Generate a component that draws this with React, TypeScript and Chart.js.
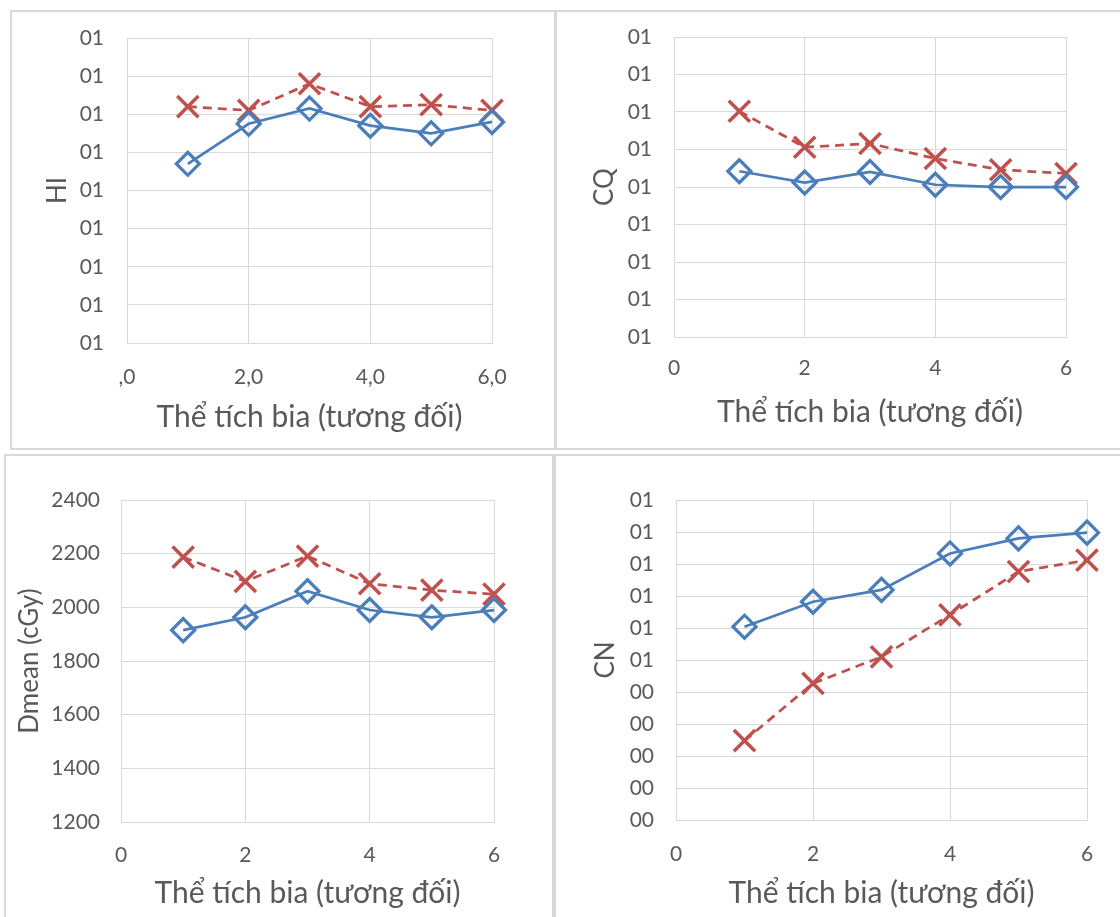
import React, { useEffect, useRef } from "react";
import { Chart, registerables } from "chart.js";

Chart.register(...registerables);

// ---------- data ----------
const xValues = [1, 2, 3, 4, 5, 6];

const hiBlue = [1.094, 1.115, 1.123, 1.114, 1.110, 1.116];
const hiRed = [1.124, 1.122, 1.136, 1.124, 1.125, 1.122];

const cqBlue = [1.021, 1.006, 1.020, 1.003, 1.000, 1.000];
const cqRed = [1.101, 1.053, 1.058, 1.038, 1.023, 1.018];

const dmeanBlue = [1915, 1963, 2060, 1990, 1963, 1990];
const dmeanRed = [2187, 2097, 2191, 2088, 2064, 2049];

const cnBlue = [0.604, 0.682, 0.719, 0.833, 0.880, 0.898];
const cnRed = [0.248, 0.427, 0.510, 0.641, 0.776, 0.812];

const xTickLabelsHI = [",0", "2,0", "4,0", "6,0"];
const xTickLabels = ["0", "2", "4", "6"];

const hiYLabels = ["01", "01", "01", "01", "01", "01", "01", "01", "01"];
const cqYLabels = ["01", "01", "01", "01", "01", "01", "01", "01", "01"];
const dmeanYLabels = ["1200", "1400", "1600", "1800", "2000", "2200", "2400"];
const cnYLabels = ["00", "00", "00", "00", "00", "01", "01", "01", "01", "01", "01"];

const hiRange = [1.0, 1.16, 0.02];
const cqRange = [0.8, 1.2, 0.05];
const dmeanRange = [1200, 2400, 200];
const cnRange = [0, 1, 0.1];

const xTitle = "Thể tích bia (tương đối)";

// ---------- styles / layout ----------
const PAGE_W = 1120;
const PAGE_H = 917;
const BLUE = "#4A7EBB";
const RED = "#C0504D";
const GRID = "#d9d9d9";
const TEXT = "#595959";
const FAMILY = "Lato, 'Open Sans', sans-serif";
const TICK_SIZE = 21;
const TITLE_SIZE = 30;
const YTITLE_SIZE = 26;

type PanelCfg = {
  plot: { l: number; t: number; r: number; b: number };
  yTitleX: number;
  xTitleY: number;
  yTickPad: number;
  xTickPad: number;
  yTitle: string;
  range: number[];
  yLabels: string[];
  xLabels: string[];
  blue: number[];
  red: number[];
};

const panels: PanelCfg[] = [
  {
    plot: { l: 127, t: 38, r: 492, b: 343 },
    yTitleX: 58, xTitleY: 417, yTickPad: 23, xTickPad: 22,
    yTitle: "HI", range: hiRange, yLabels: hiYLabels, xLabels: xTickLabelsHI,
    blue: hiBlue, red: hiRed,
  },
  {
    plot: { l: 674, t: 37, r: 1066, b: 337 },
    yTitleX: 605, xTitleY: 412, yTickPad: 22, xTickPad: 19,
    yTitle: "CQ", range: cqRange, yLabels: cqYLabels, xLabels: xTickLabels,
    blue: cqBlue, red: cqRed,
  },
  {
    plot: { l: 121, t: 500, r: 494, b: 822 },
    yTitleX: 30, xTitleY: 893, yTickPad: 21, xTickPad: 21,
    yTitle: "Dmean (cGy)", range: dmeanRange, yLabels: dmeanYLabels, xLabels: xTickLabels,
    blue: dmeanBlue, red: dmeanRed,
  },
  {
    plot: { l: 676, t: 500, r: 1087, b: 820 },
    yTitleX: 606, xTitleY: 893, yTickPad: 22, xTickPad: 22,
    yTitle: "CN", range: cnRange, yLabels: cnYLabels, xLabels: xTickLabels,
    blue: cnBlue, red: cnRed,
  },
];

const frames = [
  { left: 10, top: 10, width: 547, height: 440 },
  { left: 554, top: 10, width: 620, height: 440 },
  { left: 4, top: 454, width: 550, height: 520 },
  { left: 554, top: 454, width: 620, height: 520 },
];

function PanelChart({ cfg }: { cfg: PanelCfg }) {
  const ref = useRef<HTMLCanvasElement>(null);
  useEffect(() => {
    const canvas = ref.current!;
    const lhX = TITLE_SIZE * 1.2;
    const lhY = YTITLE_SIZE * 1.2;
    const pl = cfg.yTitleX - lhY / 2;
    const yw = cfg.plot.l - pl;
    const pt = cfg.plot.t;
    const pr = PAGE_W - cfg.plot.r;
    const pb = PAGE_H - cfg.xTitleY - lhX / 2;
    const xh = PAGE_H - pb - cfg.plot.b;
    const tickFont = { family: FAMILY, size: TICK_SIZE };
    const chart = new Chart(canvas, {
      type: "line",
      data: {
        datasets: [
          {
            data: xValues.map((x, i) => ({ x, y: cfg.blue[i] })),
            borderColor: BLUE,
            borderWidth: 2.75,
            pointStyle: "rectRot",
            pointRadius: 11.5,
            pointBorderWidth: 3.25,
            pointBorderColor: BLUE,
            pointBackgroundColor: "rgba(0,0,0,0)",
            tension: 0,
            clip: false,
          },
          {
            data: xValues.map((x, i) => ({ x, y: cfg.red[i] })),
            borderColor: RED,
            borderWidth: 2.75,
            borderDash: [9, 6],
            pointStyle: "crossRot",
            pointRadius: 15,
            pointBorderWidth: 3.5,
            pointBorderColor: RED,
            pointBackgroundColor: RED,
            tension: 0,
            clip: false,
          },
        ],
      },
      options: {
        responsive: false,
        animation: false,
        events: [],
        layout: { padding: { left: pl, top: pt, right: pr, bottom: pb } },
        plugins: { legend: { display: false }, tooltip: { enabled: false } },
        scales: {
          x: {
            type: "linear",
            min: 0,
            max: 6,
            ticks: {
              stepSize: 2,
              padding: cfg.xTickPad,
              font: tickFont,
              color: TEXT,
              maxRotation: 0,
              autoSkip: false,
              callback: (_v: any, i: number) => cfg.xLabels[i],
            },
            grid: { color: GRID, drawTicks: false },
            border: { color: GRID },
            title: {
              display: true,
              text: xTitle,
              font: { family: FAMILY, size: TITLE_SIZE },
              color: TEXT,
              padding: 0,
            },
            afterFit: (s: any) => { s.height = xh; },
          },
          y: {
            type: "linear",
            min: cfg.range[0],
            max: cfg.range[1],
            ticks: {
              stepSize: cfg.range[2],
              padding: cfg.yTickPad,
              font: tickFont,
              color: TEXT,
              autoSkip: false,
              callback: (_v: any, i: number) => cfg.yLabels[i],
            },
            grid: { color: GRID, drawTicks: false },
            border: { color: GRID },
            title: {
              display: true,
              text: cfg.yTitle,
              font: { family: FAMILY, size: YTITLE_SIZE },
              color: TEXT,
              padding: 0,
            },
            afterFit: (s: any) => { s.width = yw; },
          },
        },
      },
    } as any);
    return () => chart.destroy();
  }, [cfg]);
  return (
    <canvas
      ref={ref}
      width={PAGE_W}
      height={PAGE_H}
      style={{ position: "absolute", left: 0, top: 0, width: PAGE_W, height: PAGE_H }}
    />
  );
}

export default function App() {
  return (
    <div
      style={{
        position: "absolute",
        left: 0,
        top: 0,
        width: PAGE_W,
        height: PAGE_H,
        overflow: "hidden",
        background: "#ffffff",
      }}
    >
      {frames.map((f, i) => (
        <div
          key={i}
          style={{
            position: "absolute",
            left: f.left,
            top: f.top,
            width: f.width,
            height: f.height,
            boxSizing: "border-box",
            border: `2px solid ${GRID}`,
          }}
        />
      ))}
      {panels.map((p, i) => (
        <PanelChart key={i} cfg={p} />
      ))}
    </div>
  );
}
